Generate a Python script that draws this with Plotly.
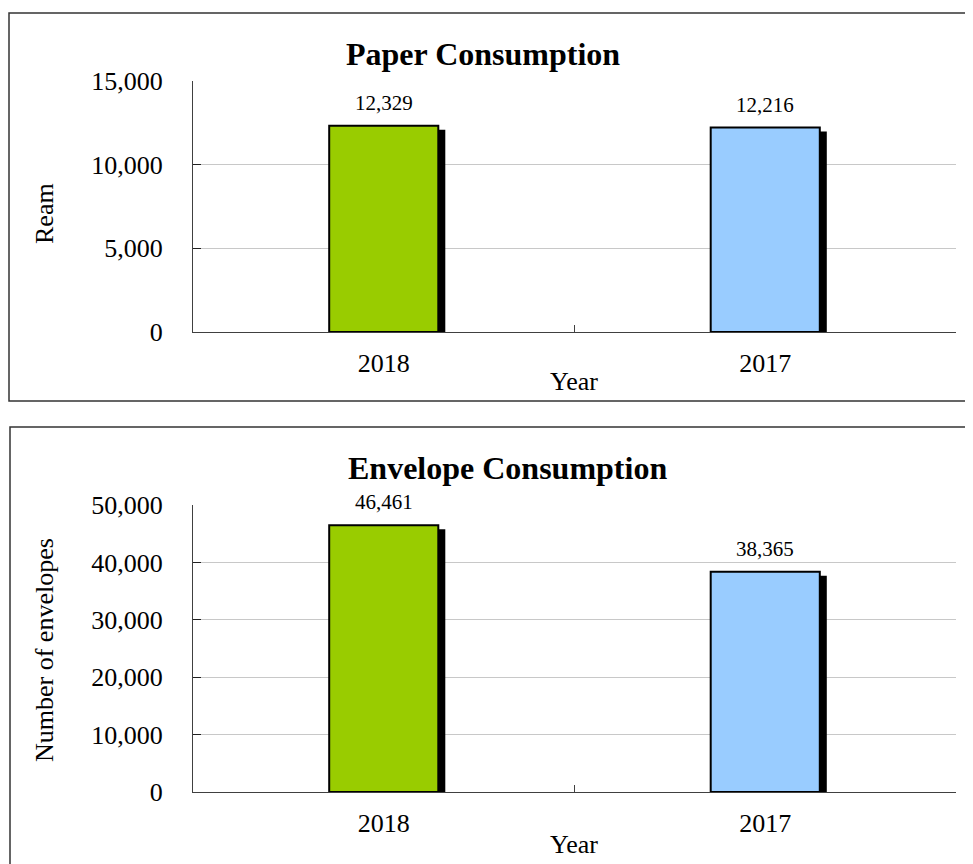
import plotly.graph_objects as go

# ---- data ----
years = ["2018", "2017"]
paper_reams = [12329, 12216]
envelopes = [46461, 38365]
bar_colors = ["#99CC00", "#99CCFF"]
paper_ticks = [0, 5000, 10000, 15000]
env_ticks = [0, 10000, 20000, 30000, 40000, 50000]

PAGE_W, PAGE_H = 973, 864
OFF = 8  # page body margin: figure origin sits at (8, 8) in the page
W, H = PAGE_W - OFF, PAGE_H - OFF
FONT = "Liberation Serif, Times New Roman, serif"

def fx(px):
    return (px - OFF) / W

def fy(py):
    return 1 - (py - OFF) / H

# plot areas in page pixels (layout only)
top_px = dict(x0=193, x1=956, y0=81, y1=332)
bot_px = dict(x0=193, x1=956, y0=505, y1=792)

def dom(px):
    return ([fx(px["x0"]), fx(px["x1"])], [fy(px["y1"]), fy(px["y0"])])

bar_w = 0.286
fig = go.Figure()

def add_panel(vals, ymax, px, xa, ya):
    cat_px = (px["x1"] - px["x0"]) / len(vals)
    dx = 7 / cat_px
    shift = 4 * ymax / (px["y1"] - px["y0"])
    # shadow
    fig.add_trace(go.Bar(x=years, y=vals, base=[-shift] * len(vals), width=bar_w,
                         offset=-bar_w / 2 + dx, marker=dict(color="black", line=dict(width=0)),
                         xaxis=xa, yaxis=ya, showlegend=False, hoverinfo="skip"))
    fig.add_trace(go.Bar(x=years, y=vals, width=bar_w, offset=-bar_w / 2,
                         marker=dict(color=bar_colors, line=dict(color="black", width=2)),
                         xaxis=xa, yaxis=ya, showlegend=False))
    for i, v in enumerate(vals):
        fig.add_annotation(x=i, y=v, xref=xa, yref=ya, text=f"{v:,}", showarrow=False,
                           yanchor="middle", yshift=23,
                           font=dict(family=FONT, size=21, color="black"))

add_panel(paper_reams, 15000, top_px, "x", "y")
add_panel(envelopes, 50000, bot_px, "x2", "y2")

xd1, yd1 = dom(top_px)
xd2, yd2 = dom(bot_px)

axis_x = dict(type="category", range=[-0.5, 1.5], tickson="boundaries", ticks="inside",
              ticklen=7, tickcolor="#404040", showline=True, linecolor="#404040", linewidth=1,
              showgrid=False, tickfont=dict(family=FONT, size=26, color="black"),
              ticklabelstandoff=8, fixedrange=True, automargin=False)
axis_y = dict(ticks="inside", ticklen=8, tickcolor="#202020", showline=True, linecolor="#404040",
              linewidth=1, showgrid=True, gridcolor="#C8C8C8", gridwidth=1, zeroline=False,
              tickformat=",", tickfont=dict(family=FONT, size=26, color="black"),
              ticklabelstandoff=24, fixedrange=True, automargin=False)

fig.update_layout(
    width=W, height=H, margin=dict(l=0, r=0, t=0, b=0, autoexpand=False),
    paper_bgcolor="white", plot_bgcolor="white", barmode="overlay",
    xaxis=dict(axis_x, domain=xd1, anchor="y"),
    yaxis=dict(axis_y, domain=yd1, anchor="x", range=[0, 15000], tickvals=paper_ticks),
    xaxis2=dict(axis_x, domain=xd2, anchor="y2"),
    yaxis2=dict(axis_y, domain=yd2, anchor="x2", range=[0, 50000], tickvals=env_ticks),
)

# panel borders (right and bottom edges run past the picture)
fig.add_shape(type="rect", xref="paper", yref="paper", x0=fx(9), x1=1.05,
              y0=fy(401), y1=fy(13), line=dict(color="#333333", width=1.5))
fig.add_shape(type="rect", xref="paper", yref="paper", x0=fx(10), x1=1.05,
              y0=-0.05, y1=fy(427), line=dict(color="#333333", width=1.5))

def txt(text, x, y, size, angle=0):
    fig.add_annotation(text=text, x=fx(x), y=fy(y), xref="paper", yref="paper",
                       showarrow=False, textangle=angle, xanchor="center", yanchor="middle",
                       font=dict(family=FONT, size=size, color="black"))

txt("<b>Paper Consumption</b>", 483, 54, 32)
txt("<b>Envelope Consumption</b>", 507, 468, 32)
txt("Year", 574, 381, 26)
txt("Year", 574, 844, 26)
txt("Ream", 44, 214, 26, -90)
txt("Number of envelopes", 44, 650, 26, -90)

fig.write_html("out.html")
